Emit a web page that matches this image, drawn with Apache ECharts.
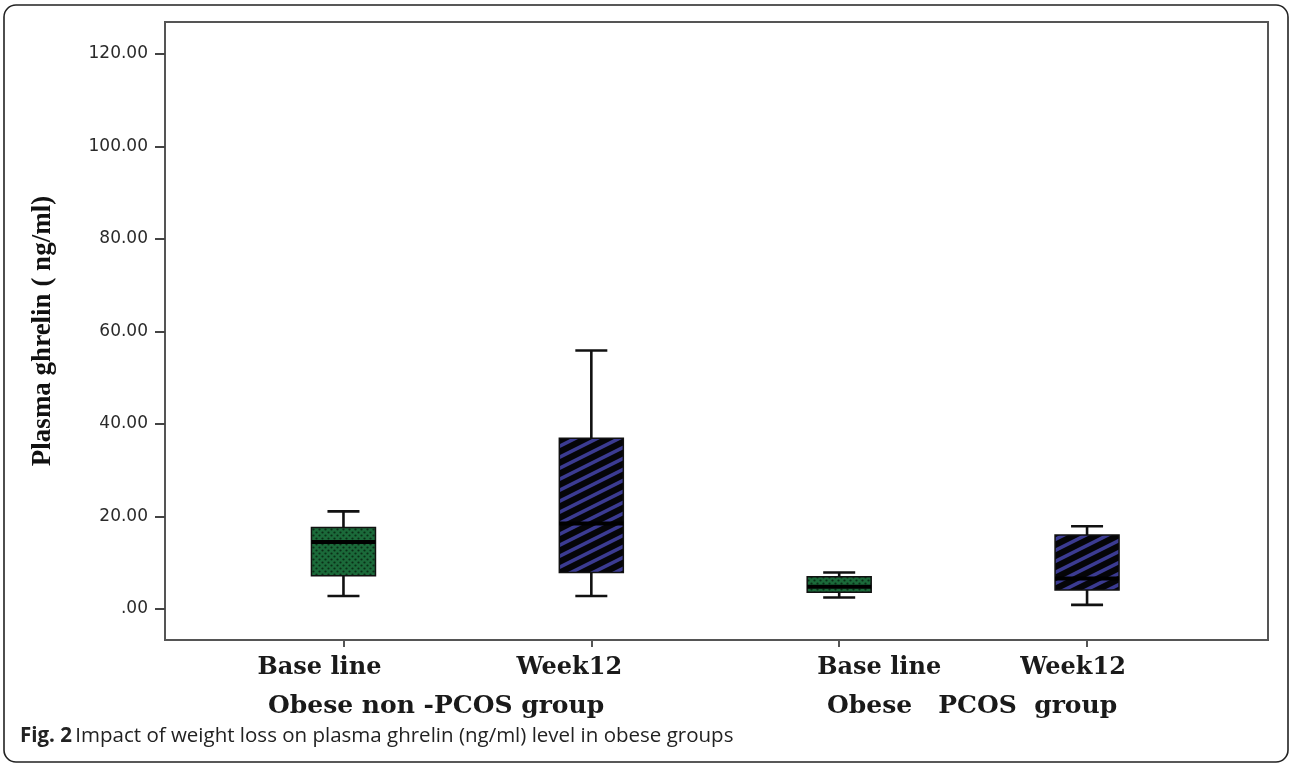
<!DOCTYPE html>
<html>
<head>
<meta charset="utf-8">
<script src="https://cdn.jsdelivr.net/npm/echarts@6/dist/echarts.min.js"></script>
<style>
  html, body { margin: 0; padding: 0; background: #ffffff; }
  #chart { width: 1290px; height: 764px; }
</style>
</head>
<body>
<div id="chart"></div>
<script>
// Box-plot summary of plasma ghrelin (ng/ml), per group and time point
const categories = ['Base line', 'Week12', 'Base line', 'Week12'];
const positions = [0, 1, 2, 3];
const groups = ['Obese non -PCOS group', 'Obese   PCOS  group'];
const whiskerLow = [2.8, 2.8, 2.5, 0.9];
const quartile1 = [7.2, 7.9, 3.6, 4.1];
const median = [14.5, 18.5, 4.8, 6.6];
const quartile3 = [17.6, 36.9, 7.0, 16.0];
const whiskerHigh = [21.1, 55.9, 7.9, 17.9];
const fillKind = ['dots', 'stripes', 'dots', 'stripes'];
const yTicks = [0, 20, 40, 60, 80, 100, 120];
const yTitle = 'Plasma ghrelin ( ng/ml)';
const captionLead = 'Fig. 2';
const captionText = 'Impact of weight loss on plasma ghrelin (ng/ml) level in obese groups';

// Fill patterns: dotted green and black with blue diagonal hatching
function dotTile() {
  const c = document.createElement('canvas');
  c.width = 6; c.height = 6;
  const g = c.getContext('2d');
  g.fillStyle = '#1b6a3a';
  g.fillRect(0, 0, 6, 6);
  g.fillStyle = '#0a2e17';
  [[1.5, 1.5], [4.5, 4.5]].forEach(function (p) {
    g.beginPath(); g.arc(p[0], p[1], 1.1, 0, Math.PI * 2); g.fill();
  });
  return c;
}
function hatchTile() {
  const w = 22, h = 11;
  const c = document.createElement('canvas');
  c.width = w; c.height = h;
  const g = c.getContext('2d');
  g.fillStyle = '#050508';
  g.fillRect(0, 0, w, h);
  g.strokeStyle = '#3b3b92';
  g.lineWidth = 3.6;
  for (let k = -1; k <= 1; k++) {
    g.beginPath();
    g.moveTo(-w, h + k * h + h);
    g.lineTo(2 * w, k * h - h);
    g.stroke();
  }
  return c;
}
const patterns = {
  dots: { image: dotTile(), repeat: 'repeat' },
  stripes: { image: hatchTile(), repeat: 'repeat' }
};

const boxData = positions.map(function (x, i) {
  return [x, whiskerLow[i], quartile1[i], median[i], quartile3[i], whiskerHigh[i]];
});

function renderBox(params, api) {
  const x = api.value(0);
  const lo = api.coord([x, api.value(1)]);
  const b1 = api.coord([x, api.value(2)]);
  const md = api.coord([x, api.value(3)]);
  const b3 = api.coord([x, api.value(4)]);
  const hi = api.coord([x, api.value(5)]);
  const cx = lo[0];
  const bw = 64, cw = 32;
  const lineStyle = { stroke: '#111', lineWidth: 2.6 };
  return {
    type: 'group',
    children: [
      { type: 'line', shape: { x1: cx, y1: hi[1], x2: cx, y2: b3[1] }, style: lineStyle },
      { type: 'line', shape: { x1: cx, y1: b1[1], x2: cx, y2: lo[1] }, style: lineStyle },
      { type: 'line', shape: { x1: cx - cw / 2, y1: hi[1], x2: cx + cw / 2, y2: hi[1] }, style: lineStyle },
      { type: 'line', shape: { x1: cx - cw / 2, y1: lo[1], x2: cx + cw / 2, y2: lo[1] }, style: lineStyle },
      {
        type: 'rect',
        shape: { x: cx - bw / 2, y: b3[1], width: bw, height: b1[1] - b3[1] },
        style: { fill: patterns[fillKind[params.dataIndex]], stroke: '#111', lineWidth: 1.5 }
      },
      { type: 'line', shape: { x1: cx - bw / 2, y1: md[1], x2: cx + bw / 2, y2: md[1] }, style: { stroke: '#000', lineWidth: 4 } }
    ]
  };
}

// Per-label horizontal nudges for the x tick labels
const labelRich = {};
const labelPad = [[0, 48, 0, 0], [0, 44, 0, 0], [0, 0, 0, 80], [0, 28, 0, 0]];
labelPad.forEach(function (p, i) {
  labelRich['c' + i] = {
    fontFamily: 'DejaVu Serif', fontWeight: 'bold', fontSize: 24, color: '#1a1a1a', padding: p
  };
});

const chart = echarts.init(document.getElementById('chart'), null, { renderer: 'canvas' });
chart.setOption({
  animation: false,
  backgroundColor: '#ffffff',
  grid: {
    left: 165, top: 22, right: 22, bottom: 124,
    show: true, borderColor: '#555', borderWidth: 2, backgroundColor: 'transparent'
  },
  xAxis: {
    type: 'value',
    min: -0.72, max: 3.73,
    splitLine: { show: false },
    axisLine: { show: true, onZero: false, lineStyle: { color: '#555', width: 2 } },
    axisTick: { show: true, length: 7, customValues: positions, lineStyle: { color: '#555', width: 2 } },
    axisLabel: {
      customValues: positions,
      margin: 16,
      formatter: function (v) {
        const i = positions.indexOf(Math.round(v));
        return '{c' + i + '|' + categories[i] + '}';
      },
      rich: labelRich
    }
  },
  yAxis: {
    type: 'value',
    min: -6.7, max: 126.9,
    splitLine: { show: false },
    axisLine: { show: true, onZero: false, lineStyle: { color: '#555', width: 2 } },
    axisTick: { show: true, length: 10, customValues: yTicks, lineStyle: { color: '#444', width: 2 } },
    axisLabel: {
      customValues: yTicks,
      margin: 17,
      fontFamily: 'DejaVu Sans', fontSize: 17, color: '#2a2a2a',
      formatter: function (v) { return v === 0 ? '.00' : v.toFixed(2); }
    },
    name: yTitle,
    nameLocation: 'middle',
    nameRotate: 90,
    nameGap: 108,
    nameTextStyle: { fontFamily: 'Liberation Serif', fontWeight: 'bold', fontSize: 27, color: '#111' }
  },
  series: [{
    type: 'custom',
    renderItem: renderBox,
    data: boxData,
    encode: { x: 0, y: [1, 2, 3, 4, 5] },
    z: 5
  }],
  graphic: [
    {
      type: 'rect', silent: true, z: 0,
      shape: { x: 4, y: 5, width: 1284, height: 757, r: 12 },
      style: { fill: 'none', stroke: '#222', lineWidth: 1.6 }
    },
    {
      type: 'text', left: 268, top: 694,
      style: { text: groups[0], font: 'bold 25px "DejaVu Serif"', fill: '#1a1a1a' }
    },
    {
      type: 'text', left: 827, top: 694,
      style: { text: groups[1], font: 'bold 25px "DejaVu Serif"', fill: '#1a1a1a' }
    },
    {
      type: 'text', left: 20, top: 726,
      style: {
        text: '{b|' + captionLead + '} {n|' + captionText + '}',
        rich: {
          b: { font: 'bold 20.5px "Open Sans"', fill: '#222' },
          n: { font: '20.5px "Open Sans"', fill: '#222' }
        }
      }
    }
  ]
});
</script>
</body>
</html>
